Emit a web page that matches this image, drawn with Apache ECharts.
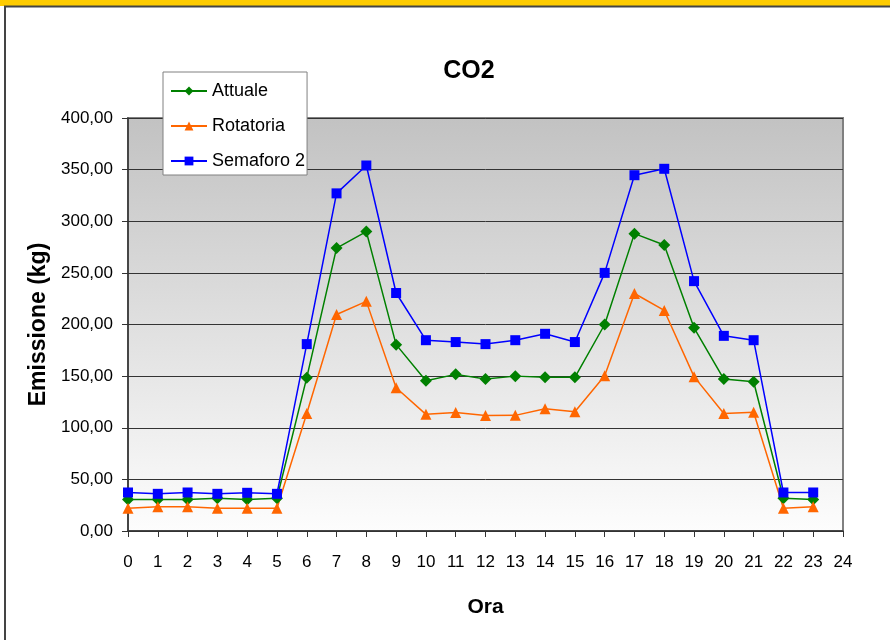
<!DOCTYPE html>
<html>
<head>
<meta charset="utf-8">
<script src="https://cdn.jsdelivr.net/npm/echarts@6/dist/echarts.min.js"></script>
<style>
html,body{margin:0;padding:0;background:#fff;}
#c{width:890px;height:640px;}
</style>
</head>
<body>
<div id="c"></div>
<script>
const hours = [0,1,2,3,4,5,6,7,8,9,10,11,12,13,14,15,16,17,18,19,20,21,22,23];
const attuale = [30.4,30.4,30.4,31.7,30.4,31.7,148.5,274,290,180.5,145.5,151.7,147.2,150,148.8,148.8,200,288,277,196.8,147.2,144.6,31.7,30.4];
const rotatoria = [22,23.6,23.6,22,22,22,113.8,209.7,222.4,138.7,113,114.8,111.9,112,118.3,115.4,150.4,230,213.6,149.5,113.8,115,22,23.6];
const semaforo = [37.3,36,37.3,36,37,36,181,327,354,230.5,184.8,183,181,184.8,191,183,250,344.6,350.8,242,189,184.8,37.3,37.3];
const seriesNames = ['Attuale','Rotatoria','Semaforo 2'];
const yTicks = {min:0, max:400, interval:50};
const xTicks = {min:0, max:24, interval:1};

const pair = arr => arr.map((v,i)=>[hours[i], v]);
const fmt = v => v.toFixed(2).replace('.', ',');
const font = 'Liberation Sans, Arial, sans-serif';

const chart = echarts.init(document.getElementById('c'), null, {renderer:'canvas'});
chart.setOption({
  animation:false,
  backgroundColor:'#fff',
  title:{text:'CO2', left:464, top:54, textAlign:'center',
    textStyle:{fontFamily:font, fontSize:25, fontWeight:'bold', color:'#000'}},
  legend:{
    orient:'vertical', left:163, top:72,
    data:seriesNames,
    backgroundColor:'#fff', borderColor:'#808080', borderWidth:1,
    padding:[10,2,5,7], itemGap:17, itemWidth:36, itemHeight:11,
    textStyle:{fontFamily:font, fontSize:18, color:'#000'}
  },
  grid:{left:128, right:47, top:118, bottom:109, show:true,
    borderColor:'#808080', borderWidth:2,
    backgroundColor:{type:'linear', x:0, y:0, x2:0, y2:1,
      colorStops:[{offset:0,color:'#c2c2c2'},{offset:1,color:'#fdfdfd'}]}},
  xAxis:{type:'value', min:xTicks.min, max:xTicks.max, interval:xTicks.interval,
    name:'Ora', nameLocation:'middle', nameGap:66,
    nameTextStyle:{fontFamily:font, fontSize:21, fontWeight:'bold', color:'#000'},
    axisLine:{lineStyle:{color:'#333', width:1.5}},
    axisTick:{show:true, length:6, lineStyle:{color:'#333'}},
    axisLabel:{fontFamily:font, fontSize:17, color:'#000', margin:23},
    splitLine:{show:false}},
  yAxis:{type:'value', min:yTicks.min, max:yTicks.max, interval:yTicks.interval,
    name:'Emissione (kg)', nameLocation:'middle', nameGap:72,
    nameTextStyle:{fontFamily:font, fontSize:23, fontWeight:'bold', color:'#000'},
    axisLine:{show:true, lineStyle:{color:'#333', width:1.5}},
    axisTick:{show:true, length:6, lineStyle:{color:'#333'}},
    axisLabel:{fontFamily:font, fontSize:17, color:'#000', margin:15, formatter:fmt},
    splitLine:{show:true, lineStyle:{color:'#333', width:1}}},
  graphic:[
    {type:'rect', shape:{x:0,y:0,width:890,height:6}, style:{fill:'#ffcc00'}, z:100},
    {type:'rect', shape:{x:5,y:6.5,width:900,height:700}, style:{fill:null, stroke:'#444', lineWidth:2}, z:100}
  ],
  series:[
    {name:'Attuale', type:'line', data:pair(attuale), color:'#008000',
      symbol:'diamond', symbolSize:12, lineStyle:{width:1.5}, itemStyle:{color:'#008000'}},
    {name:'Rotatoria', type:'line', data:pair(rotatoria), color:'#ff6600',
      symbol:'triangle', symbolSize:11, lineStyle:{width:1.5}, itemStyle:{color:'#ff6600'}},
    {name:'Semaforo 2', type:'line', data:pair(semaforo), color:'#0000ff',
      symbol:'rect', symbolSize:10, lineStyle:{width:1.5}, itemStyle:{color:'#0000ff'}}
  ]
});
</script>
</body>
</html>
